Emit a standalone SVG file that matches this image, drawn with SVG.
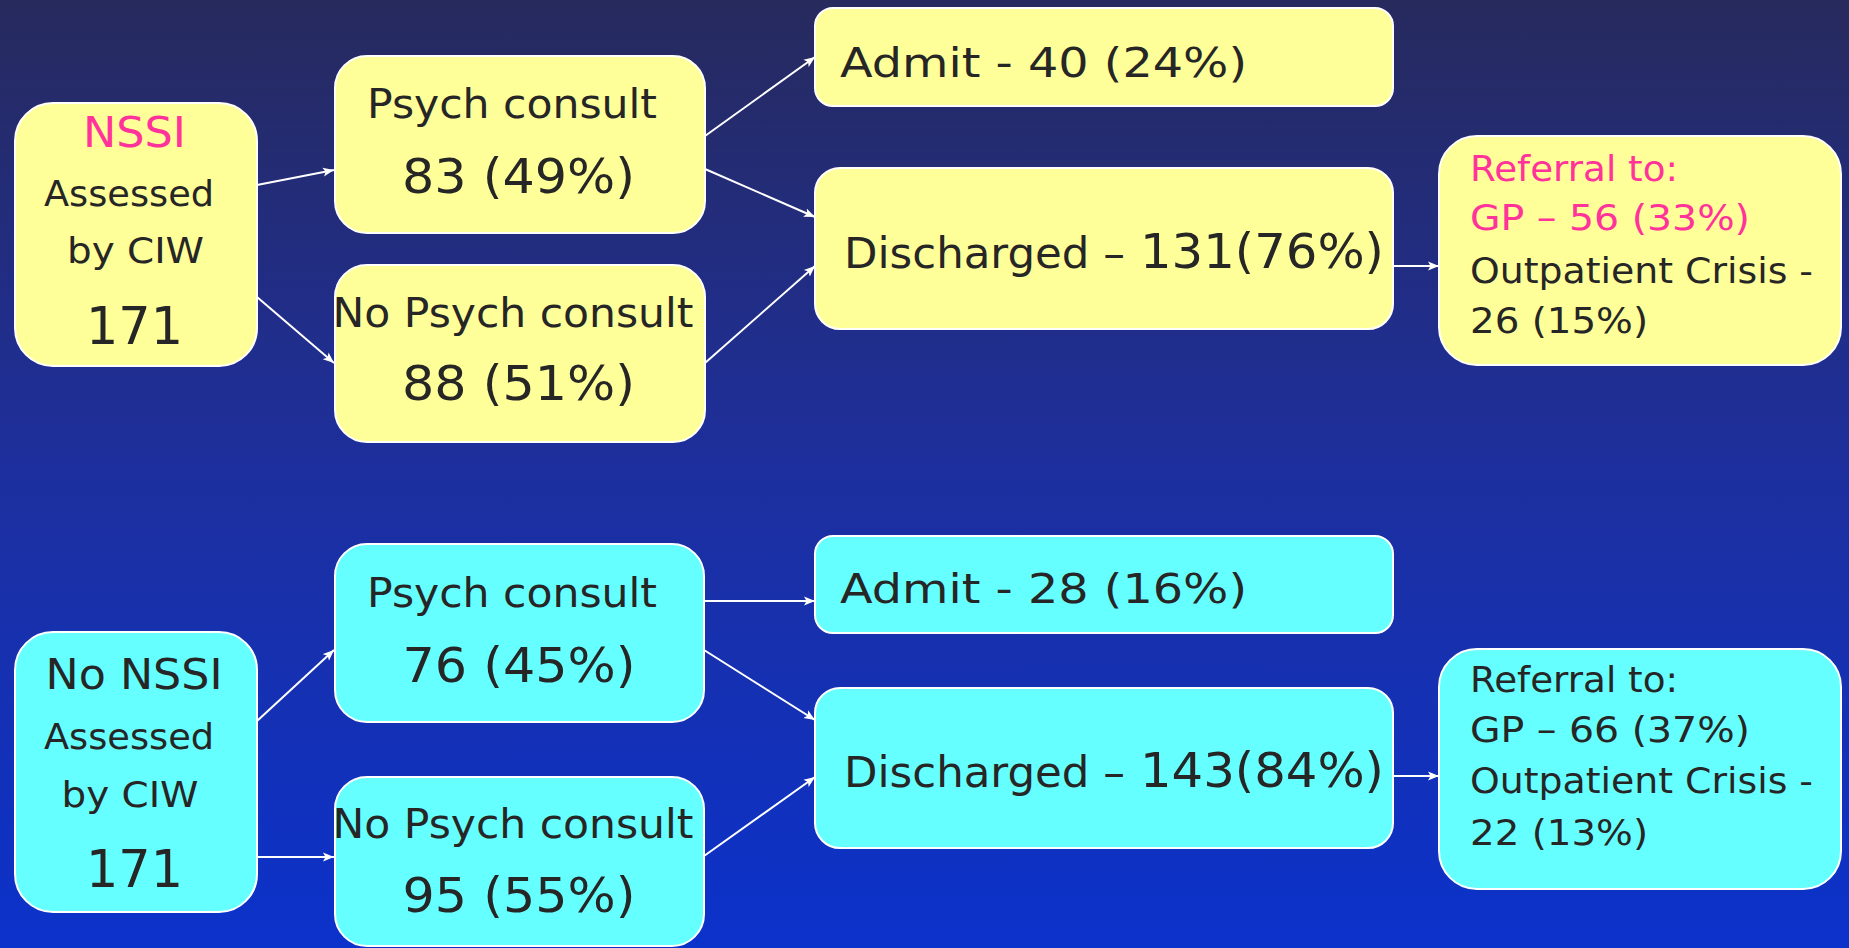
<svg xmlns="http://www.w3.org/2000/svg" width="1849" height="948" viewBox="0 0 1849 948">
<defs>
<linearGradient id="bg" x1="0" y1="0" x2="0" y2="1">
<stop offset="0" stop-color="#272A5D"/>
<stop offset="0.5" stop-color="#1D2F9E"/>
<stop offset="1" stop-color="#0B32CB"/>
</linearGradient>
<marker id="ah" markerUnits="userSpaceOnUse" markerWidth="12" markerHeight="10" refX="11" refY="5" orient="auto">
<path d="M0,0.5 L11,5 L0,9.5 L2.5,5 z" fill="#FFFFFF"/>
</marker>
<style>
.y{fill:#FFFF99;stroke:#FFFFFF;stroke-width:2}
.c{fill:#66FFFF;stroke:#FFFFFF;stroke-width:2}
text{font-family:"DejaVu Sans","Liberation Sans",sans-serif;fill:#262626}
.m{text-anchor:middle}
.pk{fill:#FF3399}
.edge{stroke:#FFFFFF;stroke-width:2;fill:none;marker-end:url(#ah)}
</style>
</defs>
<rect x="0" y="0" width="1849" height="948" fill="url(#bg)"/>

<g id="connectors">
<line class="edge" x1="257" y1="185" x2="334" y2="170"/>
<line class="edge" x1="257" y1="297" x2="334" y2="363"/>
<line class="edge" x1="705" y1="136" x2="815" y2="57"/>
<line class="edge" x1="705" y1="169" x2="815" y2="217"/>
<line class="edge" x1="705" y1="363" x2="815" y2="266"/>
<line class="edge" x1="1393" y1="266" x2="1439" y2="266"/>
<line class="edge" x1="257" y1="721" x2="334" y2="650"/>
<line class="edge" x1="257" y1="857" x2="334" y2="857"/>
<line class="edge" x1="704" y1="601" x2="815" y2="601"/>
<line class="edge" x1="704" y1="650" x2="815" y2="720"/>
<line class="edge" x1="704" y1="856" x2="815" y2="777"/>
<line class="edge" x1="1393" y1="776" x2="1439" y2="776"/>
</g>

<g id="nssi">
<rect class="y" x="15" y="103" width="242" height="263" rx="38"/>
<text class="m pk" x="134.5" y="147" font-size="42" textLength="103" lengthAdjust="spacingAndGlyphs">NSSI</text>
<text class="m" x="129" y="206" font-size="36" textLength="170" lengthAdjust="spacingAndGlyphs">Assessed</text>
<text class="m" x="135.5" y="263" font-size="36" textLength="137" lengthAdjust="spacingAndGlyphs">by CIW</text>
<text class="m" x="134.5" y="344" font-size="52" textLength="97" lengthAdjust="spacingAndGlyphs">171</text>
</g>

<g id="psych-top">
<rect class="y" x="335" y="56" width="370" height="177" rx="32"/>
<text class="m" x="512" y="118" font-size="41" textLength="290" lengthAdjust="spacingAndGlyphs">Psych consult</text>
<text class="m" x="518.5" y="193" font-size="48" textLength="233" lengthAdjust="spacingAndGlyphs">83 (49%)</text>
</g>

<g id="nopsych-top">
<rect class="y" x="335" y="265" width="370" height="177" rx="32"/>
<text class="m" x="513" y="327" font-size="41" textLength="361" lengthAdjust="spacingAndGlyphs">No Psych consult</text>
<text class="m" x="518.5" y="400" font-size="48" textLength="233" lengthAdjust="spacingAndGlyphs">88 (51%)</text>
</g>

<g id="admit-top">
<rect class="y" x="815" y="8" width="578" height="98" rx="18"/>
<text x="840" y="77" font-size="41" textLength="407" lengthAdjust="spacingAndGlyphs">Admit - 40 (24%)</text>
</g>

<g id="discharged-top">
<rect class="y" x="815" y="168" width="578" height="161" rx="25"/>
<text x="844" y="268" font-size="42" textLength="281" lengthAdjust="spacingAndGlyphs">Discharged –</text>
<text x="1140" y="268" font-size="48" textLength="244" lengthAdjust="spacingAndGlyphs">131(76%)</text>
</g>

<g id="referral-top">
<rect class="y" x="1439" y="136" width="402" height="229" rx="38"/>
<text class="pk" x="1470" y="181" font-size="36" textLength="208" lengthAdjust="spacingAndGlyphs">Referral to:</text>
<text class="pk" x="1470" y="230" font-size="36" textLength="280" lengthAdjust="spacingAndGlyphs">GP – 56 (33%)</text>
<text x="1470" y="283" font-size="36" textLength="343" lengthAdjust="spacingAndGlyphs">Outpatient Crisis -</text>
<text x="1470" y="333" font-size="36" textLength="178" lengthAdjust="spacingAndGlyphs">26 (15%)</text>
</g>

<g id="no-nssi">
<rect class="c" x="15" y="632" width="242" height="280" rx="38"/>
<text class="m" x="134" y="689" font-size="42" textLength="177" lengthAdjust="spacingAndGlyphs">No NSSI</text>
<text class="m" x="129" y="749" font-size="36" textLength="170" lengthAdjust="spacingAndGlyphs">Assessed</text>
<text class="m" x="130" y="807" font-size="36" textLength="137" lengthAdjust="spacingAndGlyphs">by CIW</text>
<text class="m" x="134.5" y="887" font-size="52" textLength="97" lengthAdjust="spacingAndGlyphs">171</text>
</g>

<g id="psych-bottom">
<rect class="c" x="335" y="544" width="369" height="178" rx="32"/>
<text class="m" x="512" y="607" font-size="41" textLength="290" lengthAdjust="spacingAndGlyphs">Psych consult</text>
<text class="m" x="519" y="682" font-size="48" textLength="233" lengthAdjust="spacingAndGlyphs">76 (45%)</text>
</g>

<g id="nopsych-bottom">
<rect class="c" x="335" y="777" width="369" height="169" rx="32"/>
<text class="m" x="513" y="838" font-size="41" textLength="361" lengthAdjust="spacingAndGlyphs">No Psych consult</text>
<text class="m" x="519" y="912" font-size="48" textLength="233" lengthAdjust="spacingAndGlyphs">95 (55%)</text>
</g>

<g id="admit-bottom">
<rect class="c" x="815" y="536" width="578" height="97" rx="18"/>
<text x="840" y="603" font-size="41" textLength="407" lengthAdjust="spacingAndGlyphs">Admit - 28 (16%)</text>
</g>

<g id="discharged-bottom">
<rect class="c" x="815" y="688" width="578" height="160" rx="25"/>
<text x="844" y="787" font-size="42" textLength="281" lengthAdjust="spacingAndGlyphs">Discharged –</text>
<text x="1140" y="787" font-size="48" textLength="244" lengthAdjust="spacingAndGlyphs">143(84%)</text>
</g>

<g id="referral-bottom">
<rect class="c" x="1439" y="649" width="402" height="240" rx="38"/>
<text x="1470" y="692" font-size="36" textLength="208" lengthAdjust="spacingAndGlyphs">Referral to:</text>
<text x="1470" y="742" font-size="36" textLength="280" lengthAdjust="spacingAndGlyphs">GP – 66 (37%)</text>
<text x="1470" y="793" font-size="36" textLength="343" lengthAdjust="spacingAndGlyphs">Outpatient Crisis -</text>
<text x="1470" y="845" font-size="36" textLength="178" lengthAdjust="spacingAndGlyphs">22 (13%)</text>
</g>
</svg>
